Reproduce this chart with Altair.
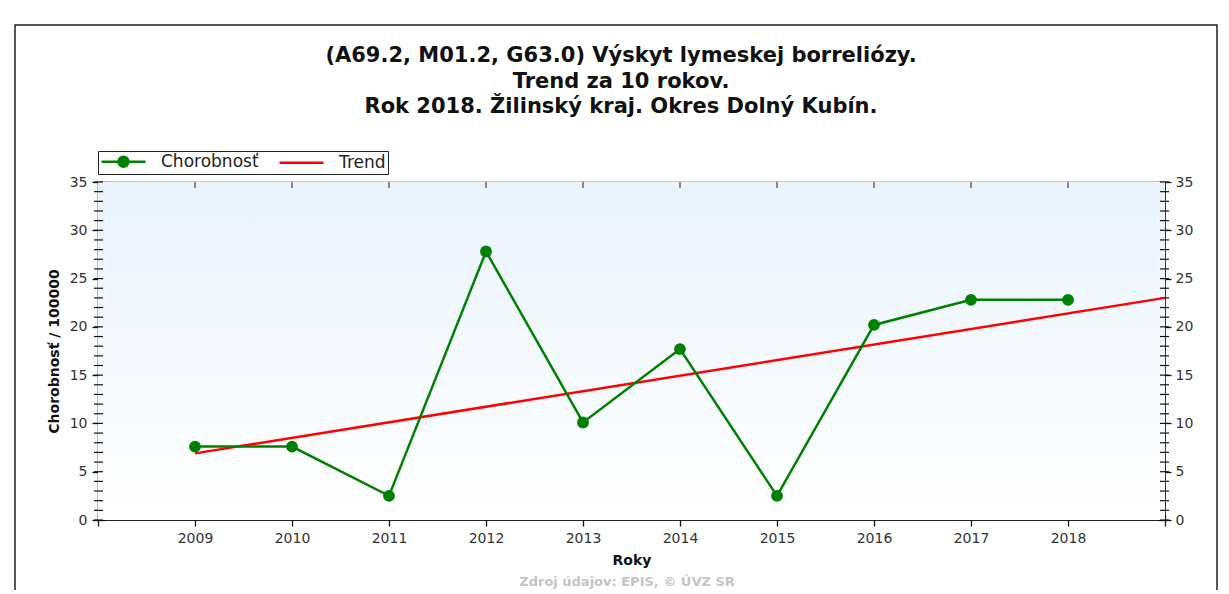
import altair as alt
import pandas as pd

# ---------------- data ----------------
years = [2009, 2010, 2011, 2012, 2013, 2014, 2015, 2016, 2017, 2018]
chorobnost = [7.6, 7.6, 2.5, 27.8, 10.1, 17.7, 2.5, 20.2, 22.8, 22.8]
trend_years = [2009, 2019]
trend_values = [6.9, 23.0]
x_ticks = [2008, 2009, 2010, 2011, 2012, 2013, 2014, 2015, 2016, 2017, 2018, 2019]
y_major = [0, 5, 10, 15, 20, 25, 30, 35]
y_minor = list(range(0, 36))
series = ["Chorobnosť", "Trend"]
title_lines = [
    "(A69.2, M01.2, G63.0) Výskyt lymeskej borreliózy.",
    "Trend za 10 rokov.",
    "Rok 2018. Žilinský kraj. Okres Dolný Kubín.",
]
x_title = "Roky"
y_title = "Chorobnosť / 100000"
source_text = "Zdroj údajov: EPIS, © ÚVZ SR"

# ---------------- style ----------------
W, H = 1067, 338
FONT = "DejaVu Sans"
GREEN = "#008000"
RED = "#ff0000"
INK = "#111111"

df = pd.DataFrame({"rok": years, "val": chorobnost})
tdf = pd.DataFrame({"rok": trend_years, "val": trend_values})
one = pd.DataFrame({"a": [0]})

xs = alt.Scale(domain=[2008, 2019], nice=False, zero=False)
ys = alt.Scale(domain=[0, 35], nice=False)

# plot background gradient
bg = alt.Chart(one).mark_rect(
    color=alt.Gradient(
        gradient="linear",
        stops=[alt.GradientStop(color="#eaf3fe", offset=0),
               alt.GradientStop(color="#ffffff", offset=1)],
        x1=0, x2=0, y1=0, y2=1,
    )
).encode(x=alt.value(0), x2=alt.value(W), y=alt.value(0), y2=alt.value(H))

common_axis = dict(
    domain=False, grid=False, tickColor=INK, tickWidth=1.3,
    labelFont=FONT, labelFontSize=14, labelColor="#333333",
    labelFlush=False, labelOverlap=False,
    titleFont=FONT, titleFontSize=14, titleFontWeight="bold", titleColor=INK,
)

trend = alt.Chart(tdf).mark_line(color=RED, strokeWidth=2.5).encode(
    x=alt.X("rok:Q", scale=xs, axis=alt.Axis(
        orient="bottom", values=x_ticks, format="d",
        labelExpr="(datum.value == 2008 || datum.value == 2019) ? '' : datum.label",
        tickSize=11, offset=-5, labelPadding=5, title=x_title, titlePadding=8,
        **common_axis)),
    y=alt.Y("val:Q", scale=ys, axis=alt.Axis(
        orient="left", values=y_major, tickSize=13, offset=-7, labelPadding=5,
        title=y_title, titlePadding=8, **common_axis)),
)

ch_line = alt.Chart(df).mark_line(color=GREEN, strokeWidth=2.5).encode(
    x=alt.X("rok:Q", scale=xs, axis=None),
    y=alt.Y("val:Q", scale=ys, axis=None),
)
ch_pts = alt.Chart(df).mark_point(filled=True, size=140, color=GREEN, opacity=1, shape="circle").encode(
    x=alt.X("rok:Q", scale=xs, axis=None),
    y=alt.Y("val:Q", scale=ys, axis=None),
)

minor_df = pd.DataFrame({"v": y_minor})
minor_left = alt.Chart(minor_df).mark_rule(color=INK, strokeWidth=1.2).encode(
    y=alt.Y("v:Q", scale=ys, axis=alt.Axis(
        orient="right", values=y_major, tickSize=13, offset=-7, labelPadding=4,
        title=None, **common_axis)),
    x=alt.value(-4), x2=alt.value(5),
)
minor_right = alt.Chart(minor_df).mark_rule(color=INK, strokeWidth=1.2).encode(
    y=alt.Y("v:Q", scale=ys, axis=None),
    x=alt.value(W - 5), x2=alt.value(W + 4),
)
top_ticks = alt.Chart(pd.DataFrame({"r": years})).mark_rule(color="#444444", strokeWidth=1.2).encode(
    x=alt.X("r:Q", scale=xs, axis=None),
    y=alt.value(0), y2=alt.value(6),
)

# legend (drawn by the library): small layout size, long symbol path
SYM = 14  # layout size of symbol in px; path spans +-22 px
k = 22.0 / (SYM / 2)
r = 5.0 / (SYM / 2)
path_dot = (f"M{-k},0L{k},0M{-r},0A{r},{r},0,1,0,{r},0"
            f"A{r},{r},0,1,0,{-r},0Z")
path_line = f"M{-k},0L{k},0"
leg = alt.Legend(
    orient="none", legendX=0, legendY=-31, direction="horizontal", title=None,
    labelFont=FONT, labelFontSize=17, labelColor="#222222",
    strokeColor="#222222", fillColor="#ffffff", padding=2,
    symbolSize=SYM * SYM, symbolOffset=15, labelOffset=29, columnPadding=15,
    gridAlign="all",
    symbolOpacity=1, symbolStrokeWidth=2.5,
)
leg_layer = alt.Chart(pd.DataFrame({"series": series})).mark_point(opacity=0).encode(
    fill=alt.Fill("series:N", scale=alt.Scale(domain=series, range=[GREEN, RED]), legend=leg),
    stroke=alt.Stroke("series:N", scale=alt.Scale(domain=series, range=[GREEN, RED]), legend=leg),
    shape=alt.Shape("series:N", scale=alt.Scale(domain=series, range=[path_dot, path_line]), legend=leg),
)

frame = alt.Chart(one).mark_rect(fill="transparent", stroke="#222222", strokeWidth=1.5).encode(
    x=alt.value(-83), x2=alt.value(1119), y=alt.value(-157), y2=alt.value(H + 200),
)

title_txt = alt.Chart(pd.DataFrame({"t": ["\n".join(title_lines)]})).mark_text(
    font=FONT, fontSize=21, fontWeight="bold", color=INK, align="center",
    baseline="top", lineBreak="\n", lineHeight=25.5,
).encode(text="t:N", x=alt.value(523), y=alt.value(-137))

src = alt.Chart(pd.DataFrame({"t": [source_text]})).mark_text(
    font=FONT, fontSize=13, fontWeight="bold", color="#c4c4c4", align="center", baseline="middle"
).encode(text="t:N", x=alt.value(529), y=alt.value(400))

chart = alt.layer(
    bg, minor_left, minor_right, top_ticks, trend, ch_line, ch_pts, leg_layer, title_txt, src, frame
).resolve_scale(
    x="independent", y="independent"
).properties(
    width=W, height=H,
    padding={"left": 90, "top": 174, "right": 54, "bottom": 70},
    autosize=alt.AutoSizeParams(type="none"),
    background="white",
).configure_view(stroke="#222222", strokeWidth=1.2)

chart.save("out.html", embed_options={"renderer": "svg", "actions": False})
